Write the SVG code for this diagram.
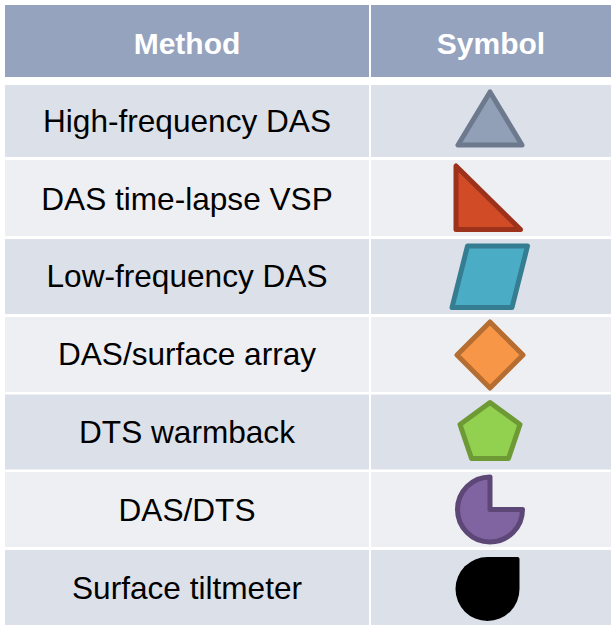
<svg xmlns="http://www.w3.org/2000/svg" width="611" height="628" viewBox="0 0 611 628">
  <style>
    .hdr { fill: #95A3BE; }
    .odd { fill: #DCE0E8; }
    .even { fill: #EEEFF3; }
    .htxt { font-family: "Liberation Sans", Arial, sans-serif; font-weight: bold; font-size: 30px; fill: #FFFFFF; text-anchor: middle; }
    .txt { font-family: "Liberation Sans", Arial, sans-serif; font-size: 31.6px; fill: #000000; text-anchor: middle; }
    .sym { stroke-width: 5; stroke-linejoin: round; }
  </style>
  <rect x="0" y="0" width="611" height="628" fill="#FFFFFF"/>

  <!-- header row -->
  <g id="header">
    <rect class="hdr" x="5" y="5" width="364" height="72"/>
    <rect class="hdr" x="371" y="5" width="240" height="72"/>
    <text class="htxt" x="187" y="54">Method</text>
    <text class="htxt" x="491" y="54">Symbol</text>
  </g>

  <g id="row-high-frequency-das">
    <rect class="odd" x="5" y="85" width="364" height="72"/>
    <rect class="odd" x="371" y="85" width="240" height="72"/>
    <text class="txt" x="187" y="132">High-frequency DAS</text>
    <polygon class="sym" points="490,92 458,145 522,145" fill="#919FB7" stroke="#6D7A8E"/>
  </g>

  <g id="row-das-time-lapse-vsp">
    <rect class="even" x="5" y="160" width="364" height="76"/>
    <rect class="even" x="371" y="160" width="240" height="76"/>
    <text class="txt" x="187" y="210">DAS time-lapse VSP</text>
    <polygon class="sym" points="456,166 456,229.5 520.5,229.5" fill="#D24B27" stroke="#9C321B"/>
  </g>

  <g id="row-low-frequency-das">
    <rect class="odd" x="5" y="239" width="364" height="75"/>
    <rect class="odd" x="371" y="239" width="240" height="75"/>
    <text class="txt" x="187" y="287">Low-frequency DAS</text>
    <polygon class="sym" points="467.5,246 527.5,246 512,307.5 452,307.5" fill="#4BACC6" stroke="#357D91"/>
  </g>

  <g id="row-das-surface-array">
    <rect class="even" x="5" y="317" width="364" height="75"/>
    <rect class="even" x="371" y="317" width="240" height="75"/>
    <text class="txt" x="187" y="365">DAS/surface array</text>
    <polygon class="sym" points="490,322 523,355 490,388 457,355" fill="#F79646" stroke="#B66D31"/>
  </g>

  <g id="row-dts-warmback">
    <rect class="odd" x="5" y="394.5" width="364" height="75"/>
    <rect class="odd" x="371" y="394.5" width="240" height="75"/>
    <text class="txt" x="187" y="443">DTS warmback</text>
    <polygon class="sym" points="490,402.5 520,424.5 508.5,458.5 471.5,458.5 460,424.5" fill="#92D050" stroke="#6E9A35"/>
  </g>

  <g id="row-das-dts">
    <rect class="even" x="5" y="472" width="364" height="75"/>
    <rect class="even" x="371" y="472" width="240" height="75"/>
    <text class="txt" x="187" y="521">DAS/DTS</text>
    <path class="sym" d="M490,509.5 L490,477 A32.5,32.5 0 1 0 522.5,509.5 Z" fill="#8064A2" stroke="#5C4776"/>
  </g>

  <g id="row-surface-tiltmeter">
    <rect class="odd" x="5" y="550" width="364" height="75"/>
    <rect class="odd" x="371" y="550" width="240" height="75"/>
    <text class="txt" x="187" y="599">Surface tiltmeter</text>
    <path d="M487.5,557 L517.5,557 Q519.5,557 519.5,559 L519.5,589 A32,32 0 1 1 487.5,557 Z" fill="#000000"/>
  </g>
</svg>
